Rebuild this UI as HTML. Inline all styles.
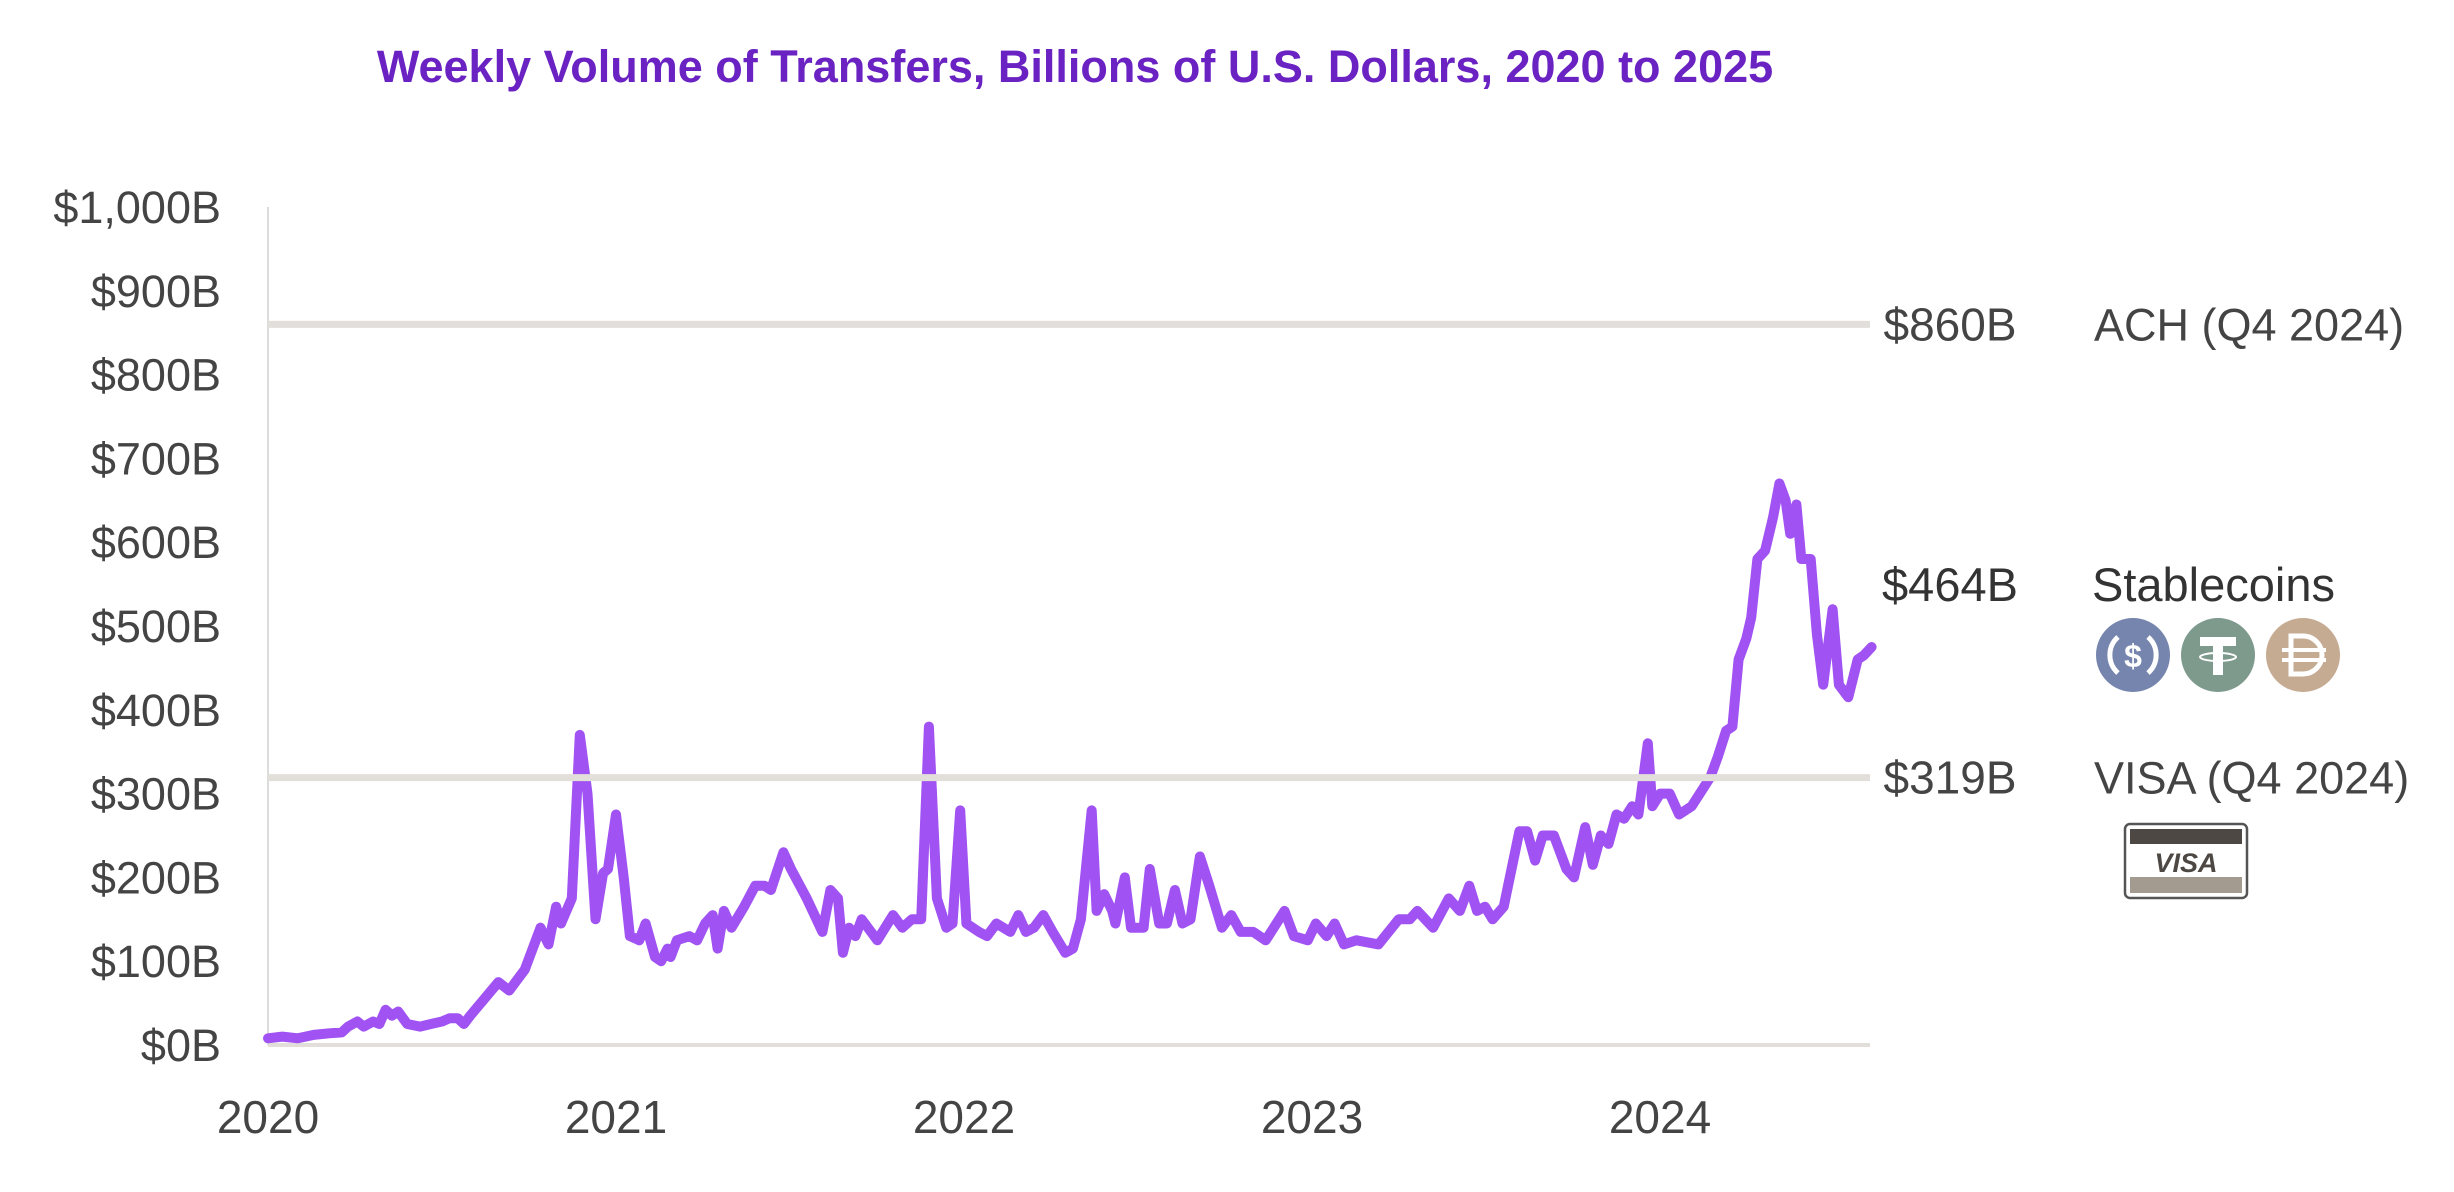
<!DOCTYPE html>
<html><head><meta charset="utf-8"><style>
html,body{margin:0;padding:0;background:#fff;}
svg{display:block;font-family:"Liberation Sans",sans-serif;}
</style></head><body>
<svg id="chart" width="2454" height="1192" viewBox="0 0 2454 1192" xmlns="http://www.w3.org/2000/svg">
<text x="1075" y="82" text-anchor="middle" font-size="45" font-weight="bold" fill="#6a22c2">Weekly Volume of Transfers, Billions of U.S. Dollars, 2020 to 2025</text>
<g id="grid"></g>
<g id="yticks"></g>
<g id="xticks"></g>
<g id="series"></g>
<g id="annot"></g>
<g>
  <g>
    <circle cx="2133" cy="655" r="37" fill="#7685ad"/>
    <path d="M2118 637 A24 24 0 0 0 2118 673" fill="none" stroke="#fff" stroke-width="5"/>
    <path d="M2148 637 A24 24 0 0 1 2148 673" fill="none" stroke="#fff" stroke-width="5"/>
    <text x="2133" y="667" text-anchor="middle" font-size="32" font-weight="bold" fill="#fff">$</text>
  </g>
  <g>
    <circle cx="2218" cy="655" r="37" fill="#7d9a8d"/>
    <rect x="2200" y="637" width="36" height="9" fill="#fff"/>
    <rect x="2213" y="637" width="10" height="38" fill="#fff"/>
    <ellipse cx="2218" cy="657" rx="18" ry="4" fill="none" stroke="#fff" stroke-width="2"/>
  </g>
  <g>
    <circle cx="2303" cy="655" r="37" fill="#c6ab93"/>
    <path d="M2291 636 H2303 A19 19 0 0 1 2303 674 H2291 Z" fill="none" stroke="#fff" stroke-width="5"/>
    <line x1="2282" y1="650" x2="2326" y2="650" stroke="#fff" stroke-width="4"/>
    <line x1="2282" y1="660" x2="2326" y2="660" stroke="#fff" stroke-width="4"/>
  </g>
</g>
<g>
  <rect x="2125" y="824" width="122" height="74" rx="5" fill="#fff" stroke="#555" stroke-width="2.5"/>
  <rect x="2130" y="829" width="112" height="15" fill="#4d4843"/>
  <rect x="2130" y="877" width="112" height="16" fill="#a39a90"/>
  <text x="2186" y="872" text-anchor="middle" font-size="27" font-weight="bold" font-style="italic" fill="#4d4843">VISA</text>
</g>
</svg>
<script>
const yearsSince2020 = [0,.041,.086,.131,.176,.212,.230,.257,.275,.302,.320,.338,.356,.374,.400,.437,.468,.500,.522,.545,.563,.581,.662,.693,.738,.783,.806,.828,.842,.873,.896,.918,.941,.963,.977,1.0,1.022,1.040,1.067,1.085,1.112,1.130,1.148,1.157,1.175,1.211,1.233,1.256,1.278,1.292,1.310,1.332,1.368,1.400,1.427,1.445,1.481,1.503,1.548,1.593,1.616,1.638,1.652,1.670,1.688,1.706,1.751,1.796,1.823,1.850,1.877,1.899,1.922,1.949,1.967,1.989,2.007,2.043,2.066,2.093,2.133,2.156,2.178,2.201,2.228,2.255,2.291,2.313,2.336,2.367,2.381,2.403,2.426,2.435,2.462,2.480,2.516,2.534,2.561,2.583,2.606,2.628,2.651,2.678,2.705,2.741,2.768,2.795,2.831,2.867,2.921,2.948,2.988,3.011,3.042,3.065,3.092,3.128,3.191,3.249,3.281,3.303,3.348,3.393,3.425,3.452,3.474,3.497,3.519,3.551,3.596,3.618,3.641,3.663,3.695,3.731,3.753,3.785,3.807,3.830,3.852,3.875,3.897,3.920,3.938,3.965,3.978,4.001,4.028,4.055,4.091,4.122,4.145,4.167,4.190,4.208,4.226,4.248,4.262,4.280,4.302,4.325,4.343,4.361,4.374,4.392,4.406,4.433,4.451,4.469,4.496,4.514,4.541,4.568,4.586,4.608];
const volumeBillions = [8,10,8,12,14,15,22,28,22,28,25,42,35,40,25,22,25,28,32,32,25,35,75,65,90,140,120,165,145,175,370,300,150,205,210,275,200,130,125,145,105,100,115,105,125,130,125,145,155,115,160,140,165,190,190,185,230,210,175,135,185,175,110,140,130,150,125,155,140,150,150,380,175,140,145,280,145,135,130,145,135,155,135,140,155,135,110,115,150,280,160,180,160,145,200,140,140,210,145,145,185,145,150,225,190,140,155,135,135,125,160,130,125,145,130,145,120,125,120,150,150,160,140,175,160,190,160,165,150,165,255,255,220,250,250,210,200,260,215,250,240,275,270,285,275,360,285,300,300,275,285,305,320,345,375,380,460,485,510,580,590,630,670,650,610,645,580,580,490,430,520,430,415,460,465,475];
const yTickValues = [0,100,200,300,400,500,600,700,800,900,1000];
const yTickLabels = ["$0B","$100B","$200B","$300B","$400B","$500B","$600B","$700B","$800B","$900B","$1,000B"];
const xTickYears = [0,1,2,3,4];
const xTickLabels = ["2020","2021","2022","2023","2024"];
const refValues = [860,319];
const refValueLabels = ["$860B","$319B"];
const refNames = ["ACH (Q4 2024)","VISA (Q4 2024)"];
const latestLabel = "$464B";
const latestValue = 464;
const latestName = "Stablecoins";

const NS="http://www.w3.org/2000/svg";
const X0=268, PXY=348, XEND=1870, Y0=1045, PXV=0.838;
const xs = d => X0 + d*PXY;
const ys = v => Y0 - v*PXV;
function mk(tag, attrs, parent, text){const e=document.createElementNS(NS,tag);for(const k in attrs)e.setAttribute(k,attrs[k]);if(text!==undefined)e.textContent=text;parent.appendChild(e);return e;}

const grid=document.getElementById('grid');
const axisL=mk('line',{x1:X0,y1:ys(1000),x2:X0,y2:Y0,stroke:'#dcdcdc','stroke-width':2},grid);


const base=mk('line',{x1:X0,y1:Y0,x2:XEND,y2:Y0,stroke:'#e2dfda','stroke-width':4},grid);



const yt=document.getElementById('yticks');
yTickValues.forEach((v,i)=>{
  const t=mk('text',{x:221,y:ys(v)+16,'text-anchor':'end','font-size':45,fill:'#444'},yt,yTickLabels[i]);
  
  
});
const xt=document.getElementById('xticks');
xTickYears.forEach((d,i)=>{
  const t=mk('text',{x:xs(d),y:1133,'text-anchor':'middle','font-size':46,fill:'#444'},xt,xTickLabels[i]);
  
  
});

const an=document.getElementById('annot');
refValues.forEach((v,i)=>{
  const l=mk('line',{x1:X0,y1:ys(v),x2:XEND,y2:ys(v),stroke:'#e2dfda','stroke-width':7},an);
  
  
  const t=mk('text',{x:1950,y:ys(v)+16,'text-anchor':'middle','font-size':46,fill:'#444'},an,refValueLabels[i]);
  
  
  const n=mk('text',{x:2094,y:ys(v)+16,'font-size':45,fill:'#444'},an,refNames[i]);
  
  
});
const lv=mk('text',{x:1950,y:601,'text-anchor':'middle','font-size':47,fill:'#333'},an,latestLabel);


const ln=mk('text',{x:2092,y:601,'font-size':47,fill:'#333'},an,latestName);



const sg=document.getElementById('series');
const d=yearsSince2020.map((t,i)=>(i?'L':'M')+xs(t).toFixed(1)+' '+ys(volumeBillions[i]).toFixed(1)).join(' ');
const p=mk('path',{d:d,fill:'none',stroke:'#a052f2','stroke-width':10,'stroke-linejoin':'round','stroke-linecap':'round'},sg);


</script>
</body></html>
